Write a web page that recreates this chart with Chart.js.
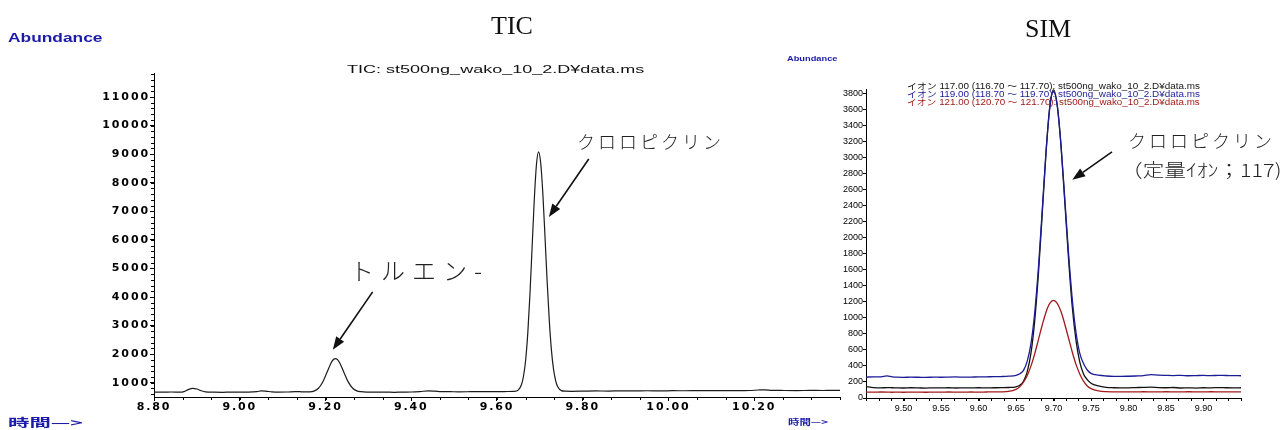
<!DOCTYPE html>
<html>
<head>
<meta charset="utf-8">
<script src="https://cdn.jsdelivr.net/npm/chart.js@4.4.1/dist/chart.umd.min.js"></script>
<style>
  html, body { margin: 0; padding: 0; background: #fff; }
  #wrap { position: relative; width: 1285px; height: 430px; overflow: hidden; background: #fff; }
  canvas { position: absolute; top: 0; }
  #ticCv { left: 0; }
  #simCv { left: 835px; }
  .t { position: absolute; white-space: nowrap; line-height: 1; }
</style>
</head>
<body>
<div id="wrap">
  <canvas id="ticCv" width="850" height="430"></canvas>
  <canvas id="simCv" width="450" height="430"></canvas>
</div>
<script>
// ---- TIC trace (retention time in min, abundance) ----
const ticTime = [
  8.800, 8.820, 8.840, 8.860, 8.870, 8.880, 8.890, 8.900, 8.910, 8.920, 8.940, 8.960,
  8.980, 9.000, 9.020, 9.040, 9.050, 9.060, 9.075, 9.090, 9.110, 9.130, 9.140, 9.150,
  9.163, 9.173, 9.183, 9.193, 9.203, 9.213, 9.218, 9.223, 9.228, 9.233, 9.243, 9.253,
  9.263, 9.273, 9.283,
  9.300, 9.320, 9.340, 9.360, 9.380, 9.400, 9.420, 9.440, 9.455, 9.470, 9.490, 9.510,
  9.530, 9.550, 9.570, 9.590, 9.610, 9.625,
  9.640, 9.650, 9.657, 9.662, 9.667, 9.672, 9.677, 9.682, 9.687, 9.692, 9.697, 9.702,
  9.707, 9.712, 9.717, 9.722, 9.727, 9.732, 9.737, 9.742, 9.750, 9.760,
  9.775, 9.800, 9.830, 9.860, 9.890, 9.920, 9.950, 9.980, 10.010, 10.040, 10.070, 10.100,
  10.130, 10.160, 10.190, 10.210, 10.225, 10.240, 10.270, 10.300, 10.330, 10.360, 10.380, 10.400
];
const ticAbund = [
  672, 668, 675, 670, 690, 760, 800, 780, 720, 680, 668, 665,
  670, 668, 672, 690, 712, 705, 680, 670, 675, 690, 688, 676,
  678, 706, 798, 1007, 1346, 1693, 1805, 1845, 1810, 1700, 1360, 1030,
  815, 715, 685,
  672, 668, 670, 665, 672, 675, 690, 715, 705, 690, 688, 680,
  683, 690, 685, 688, 690, 692,
  695, 750, 930, 1244, 1823, 2779, 4138, 5783, 7410, 8627, 9080, 8680,
  7595, 6094, 4533, 3165, 2133, 1457, 1059, 850, 725, 705,
  700, 705, 712, 708, 715, 712, 718, 715, 720, 718, 722, 720,
  725, 722, 728, 745, 752, 735, 728, 725, 730, 728, 735, 730
];

// ---- SIM traces, shared time axis ----
const simTime = [
  9.450, 9.460, 9.470, 9.478, 9.485, 9.490, 9.500, 9.510, 9.520, 9.530, 9.540, 9.550,
  9.560, 9.570, 9.580, 9.590, 9.600, 9.610, 9.620, 9.630, 9.640,
  9.650, 9.655, 9.660, 9.665, 9.670, 9.675, 9.680, 9.685, 9.690, 9.695, 9.700,
  9.705, 9.710, 9.715, 9.720, 9.725, 9.730, 9.735, 9.740, 9.745, 9.750,
  9.760, 9.770, 9.780, 9.790, 9.800, 9.810, 9.820, 9.830, 9.840, 9.850,
  9.860, 9.870, 9.880, 9.890, 9.900, 9.910, 9.920, 9.930, 9.940, 9.950
];
const ion117 = [
  142, 130, 126, 130, 128, 127, 125, 128, 126, 124, 127, 126,
  128, 125, 127, 126, 128, 127, 128, 129, 131,
  140, 158, 210, 330, 563, 969, 1565, 2305, 3061, 3634, 3850,
  3660, 3150, 2458, 1747, 1140, 720, 450, 300, 230, 185,
  150, 134, 128, 126, 127, 130, 133, 135, 130, 128,
  131, 125, 127, 124, 128, 127, 130, 128, 127, 128
];
const ion119 = [
  262, 263, 265, 276, 263, 260, 258, 260, 259, 258, 261, 259,
  262, 263, 260, 262, 263, 265, 266, 268, 272,
  282, 302, 345, 460, 682, 1071, 1641, 2351, 3074, 3623, 3830,
  3648, 3160, 2497, 1816, 1235, 820, 560, 430, 350, 308,
  285, 275, 270, 270, 272, 275, 280, 292, 285, 282,
  280, 283, 278, 280, 282, 279, 283, 281, 280, 278
];
const ion121 = [
  74, 73, 75, 74, 72, 73, 72, 74, 73, 72, 74, 73,
  75, 74, 73, 75, 74, 75, 76, 77, 82,
  108, 141, 197, 282, 401, 555, 732, 912, 1072, 1181, 1220,
  1183, 1080, 925, 750, 575, 420, 300, 210, 150, 118,
  90, 80, 77, 76, 77, 76, 78, 77, 76, 78,
  77, 76, 78, 77, 76, 78, 77, 76, 77, 76
];

const simLegend = [
  'イオン 117.00 (116.70 〜 117.70): st500ng_wako_10_2.D¥data.ms',
  'イオン 119.00 (118.70 〜 119.70): st500ng_wako_10_2.D¥data.ms',
  'イオン 121.00 (120.70 〜 121.70): st500ng_wako_10_2.D¥data.ms'
];

// axis ranges and labelled tick values
const ticXRange = [8.80, 10.40];
const ticXTicks = [8.80, 9.00, 9.20, 9.40, 9.60, 9.80, 10.00, 10.20];
const ticYRange = [500, 11840];
const ticYTicks = [1000, 2000, 3000, 4000, 5000, 6000, 7000, 8000, 9000, 10000, 11000];
const simXRange = [9.45, 9.95];
const simXTicks = [9.50, 9.55, 9.60, 9.65, 9.70, 9.75, 9.80, 9.85, 9.90];
const simYRange = [0, 3860];
const simYTicks = [0, 200, 400, 600, 800, 1000, 1200, 1400, 1600, 1800, 2000,
  2200, 2400, 2600, 2800, 3000, 3200, 3400, 3600, 3800];

// arrows: [time, abundance] of tail and head
const ticArrows = [
  { from: [9.310, 4180], to: [9.217, 2154] },
  { from: [9.814, 8832], to: [9.721, 6804] }
];
const simArrows = [
  { from: [9.778, 3075], to: [9.725, 2725] }
];

const pts = (xs, ys) => xs.map((t, i) => ({ x: t, y: ys[i] }));
const fixTicks = vals => s => { s.ticks = vals.map(v => ({ value: v })); };

Chart.defaults.font.family = '"Liberation Sans", Arial, sans-serif';
Chart.defaults.color = '#000';

// widens canvas text (tick labels) of a chart
const textSpacing = {
  id: 'textSpacing',
  beforeLayout(c, a, o) { c.ctx.letterSpacing = (o.px || 0) + 'px'; },
  beforeDraw(c, a, o) { c.ctx.letterSpacing = (o.px || 0) + 'px'; }
};

// short minor tick marks along both axes
const minorTicks = {
  id: 'minorTicks',
  afterDraw(chart, args, o) {
    const { ctx, chartArea: a, scales: { x, y } } = chart;
    ctx.save();
    ctx.strokeStyle = '#000';
    ctx.lineWidth = 1;
    ctx.beginPath();
    if (o.x) {
      for (let k = 0; ; k++) {
        const v = x.min + k * o.x;
        if (v > x.max + 1e-9) break;
        const px = Math.round(x.getPixelForValue(v)) + 0.5;
        ctx.moveTo(px, a.bottom);
        ctx.lineTo(px, a.bottom + o.len);
      }
    }
    if (o.y) {
      for (let v = Math.ceil(y.min / o.y) * o.y; v <= y.max; v += o.y) {
        const py = Math.round(y.getPixelForValue(v)) + 0.5;
        ctx.moveTo(a.left, py);
        ctx.lineTo(a.left - o.len, py);
      }
    }
    ctx.stroke();
    ctx.restore();
  }
};

// annotation arrows, placed in data units
const arrows = {
  id: 'arrows',
  afterDatasetsDraw(chart, args, o) {
    const { ctx, scales: { x, y } } = chart;
    ctx.save();
    ctx.strokeStyle = '#111';
    ctx.fillStyle = '#111';
    ctx.lineWidth = 1.6;
    (o.items || []).forEach(n => {
      const x0 = x.getPixelForValue(n.from[0]), y0 = y.getPixelForValue(n.from[1]);
      const x1 = x.getPixelForValue(n.to[0]), y1 = y.getPixelForValue(n.to[1]);
      const ang = Math.atan2(y1 - y0, x1 - x0);
      const L = 13, W = 4.8;
      const c = Math.cos(ang), s = Math.sin(ang);
      const bx = x1 - L * c, by = y1 - L * s;
      ctx.beginPath();
      ctx.moveTo(x0, y0);
      ctx.lineTo(bx, by);
      ctx.stroke();
      ctx.beginPath();
      ctx.moveTo(x1, y1);
      ctx.lineTo(bx + W * s, by - W * c);
      ctx.lineTo(bx - W * s, by + W * c);
      ctx.closePath();
      ctx.fill();
    });
    ctx.restore();
  }
};

const axisBase = (tickLen) => ({
  grid: { drawOnChartArea: false, drawTicks: true, tickLength: tickLen, color: '#000', lineWidth: 1 },
  border: { display: true, color: '#000', width: 1 }
});

const ticFont = { family: '"DejaVu Sans"', size: 11, weight: 'bold' };

// ---- TIC chart ----
new Chart(document.getElementById('ticCv'), {
  type: 'line',
  data: {
    datasets: [{
      data: pts(ticTime, ticAbund),
      borderColor: '#1c1c1c',
      borderWidth: 1.2,
      pointRadius: 0,
      cubicInterpolationMode: 'monotone',
      fill: false
    }]
  },
  options: {
    responsive: false,
    animation: false,
    devicePixelRatio: 1,
    layout: { padding: { left: 94, right: 10, top: 73, bottom: 13 } },
    scales: {
      x: {
        type: 'linear', min: ticXRange[0], max: ticXRange[1],
        ...axisBase(4),
        afterBuildTicks: fixTicks(ticXTicks),
        afterFit: s => { s.height = 20; },
        ticks: {
          autoSkip: false, maxRotation: 0, padding: 0,
          font: ticFont,
          callback: v => v.toFixed(2)
        }
      },
      y: {
        type: 'linear', min: ticYRange[0], max: ticYRange[1],
        ...axisBase(4),
        afterBuildTicks: fixTicks(ticYTicks),
        afterFit: s => { s.width = 60; },
        ticks: {
          autoSkip: false, padding: 0,
          font: ticFont,
          callback: v => String(v)
        }
      }
    },
    plugins: {
      legend: { display: false },
      tooltip: { enabled: false },
      textSpacing: { px: 1.9 },
      minorTicks: { x: 0.2 / 3, y: 200, len: 3 },
      arrows: { items: ticArrows }
    }
  },
  plugins: [textSpacing, minorTicks, arrows]
});

// ---- SIM chart ----
const simColors = ['#121212', '#1c1c96', '#a01c1c'];
new Chart(document.getElementById('simCv'), {
  type: 'line',
  data: {
    datasets: [
      { data: pts(simTime, ion121), borderColor: simColors[2] },
      { data: pts(simTime, ion119), borderColor: simColors[1] },
      { data: pts(simTime, ion117), borderColor: simColors[0] }
    ].map(d => Object.assign(d, {
      borderWidth: 1.3, pointRadius: 0, cubicInterpolationMode: 'monotone', fill: false
    }))
  },
  options: {
    responsive: false,
    animation: false,
    devicePixelRatio: 1,
    layout: { padding: { left: 3, right: 44, top: 89, bottom: 12 } },
    scales: {
      x: {
        type: 'linear', min: simXRange[0], max: simXRange[1],
        ...axisBase(3),
        afterBuildTicks: fixTicks(simXTicks),
        afterFit: s => { s.height = 20; },
        ticks: {
          autoSkip: false, maxRotation: 0, padding: 2,
          font: { size: 9 },
          callback: v => v.toFixed(2)
        }
      },
      y: {
        type: 'linear', min: simYRange[0], max: simYRange[1],
        ...axisBase(3),
        afterBuildTicks: fixTicks(simYTicks),
        afterFit: s => { s.width = 28; },
        ticks: {
          autoSkip: false, padding: 0,
          font: { size: 9 },
          callback: v => String(v)
        }
      }
    },
    plugins: {
      legend: { display: false },
      tooltip: { enabled: false },
      minorTicks: { x: 0.05 / 3, len: 3 },
      arrows: { items: simArrows }
    }
  },
  plugins: [minorTicks, arrows]
});

// ---- text labels ----
const wrap = document.getElementById('wrap');
function put(text, o) {
  const el = document.createElement('div');
  el.className = 't';
  el.textContent = text;
  el.style.font = o.font;
  el.style.color = o.color || '#111';
  if (o.ls) el.style.letterSpacing = o.ls + 'px';
  wrap.appendChild(el);
  const w = el.offsetWidth, h = el.offsetHeight;
  const k = o.w ? o.w / w : 1;
  const left = o.align === 'center' ? o.x - (w * k) / 2 : o.x;
  el.style.left = left + 'px';
  el.style.top = (o.y - h / 2) + 'px';
  el.style.transformOrigin = '0 50%';
  if (k !== 1) el.style.transform = 'scaleX(' + k + ')';
}

const blue = '#1c1ca8';
put('TIC', { x: 512, y: 26, align: 'center', font: '26px "Liberation Serif"' });
put('SIM', { x: 1048, y: 29, align: 'center', font: '26px "Liberation Serif"' });

put('Abundance', { x: 8, y: 38, font: 'bold 12px "Liberation Sans"', color: blue, w: 94 });
put('TIC: st500ng_wako_10_2.D¥data.ms', { x: 347, y: 69, font: '11px "Liberation Sans"', color: '#111', w: 298 });
put('時間—>', { x: 8, y: 422, font: 'bold 11px "Noto Sans CJK JP"', color: blue, w: 74 });

put('Abundance', { x: 787, y: 58, font: 'bold 8px "Liberation Sans"', color: blue, w: 51 });
put('時間—>', { x: 788, y: 421, font: 'bold 8px "Noto Sans CJK JP"', color: blue, w: 40 });

const legendY = [85, 92.7, 100.7];
simLegend.forEach((s, i) => put(s, {
  x: 907, y: legendY[i], font: '8.5px "Liberation Sans", "Noto Sans CJK JP"', color: simColors[i], w: 293
}));

const jp = '300 18px "Noto Sans CJK JP"';
put('クロロピクリン', { x: 577, y: 141, font: jp, color: '#222', ls: 3 });
put('トルエン-', { x: 350, y: 269, font: '300 24px "Noto Sans CJK JP"', color: '#222', ls: 7 });
put('クロロピクリン', { x: 1128, y: 140, font: jp, color: '#222', ls: 3 });
put('（定量ｲｵﾝ；117)', { x: 1121, y: 169, font: jp, color: '#222', w: 161 });
</script>
</body>
</html>
